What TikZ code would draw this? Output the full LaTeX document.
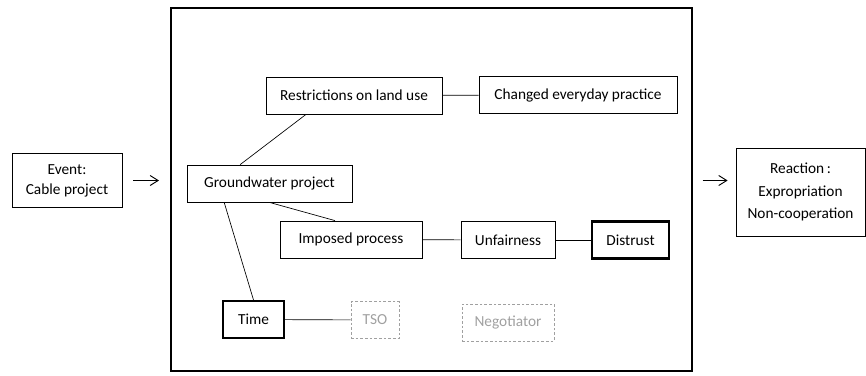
\documentclass[tikz,border=0pt]{standalone}
\usepackage{fontspec}
\setmainfont{Carlito}
\usetikzlibrary{arrows.meta}
\definecolor{faint}{HTML}{A0A0A0}
\begin{document}
\begin{tikzpicture}
		[x=0.75pt, y=-0.75pt,
		every node/.style={inner sep=1pt, minimum height=27.75pt, align=center, font=\fontsize{11.5}{15}\selectfont},
		box/.style={draw, line width=0.6pt},
		keybox/.style={draw, line width=1.6pt},
		openbox/.style={draw=faint, text=faint, dash pattern=on 2pt off 1.5pt, line width=0.6pt},
		link/.style={line width=0.5pt}]
		\useasboundingbox (0,0) rectangle (866,375);
		\node[draw, line width=2pt, minimum width=390.75pt, minimum height=272.25pt] (frame) at (431.5,189.5) {};
		\node[box, minimum width=82.5pt, minimum height=40pt] (event) at (67,180.5) {Event:\\Cable project};
		\node[box, minimum width=96.75pt, minimum height=66pt] (reaction) at (800.5,192) {Reaction\,:\\[2pt]Expropriation\\[2pt]Non-cooperation};
		
		\node[box, minimum width=132pt] (restrict) at (354,95.5) {Restrictions on land use};
		\node[box, minimum width=148.5pt] (change) at (578,95) {Changed everyday practice};
		\node[box, minimum width=123.75pt] (ground) at (269.5,183.5) {Groundwater project};
		\node[box, minimum width=106.5pt] (imposed) at (351,239.5) {Imposed process};
		\node[box, minimum width=70.5pt] (unfair) at (508,240) {Unfairness};
		\node[keybox, minimum width=57.75pt] (distrust) at (630.5,240) {Distrust};
		\node[keybox, minimum width=45.75pt] (time) at (253.5,319.5) {Time};
		\node[openbox, minimum width=36pt] (tso) at (375,320) {TSO};
		\node[openbox, minimum width=69pt] (negot) at (508,322.5) {Negotiator};
		
		\path[link] (restrict) edge (change)
			([xshift=-36pt]restrict.south) edge ([xshift=-22pt]ground.north)
			(ground.south) edge ([xshift=-12pt]imposed.north)
			([xshift=-34pt]ground.south) edge (time.north)
			(imposed) edge (unfair)
			(unfair) edge (distrust)
			(time) edge (tso);
		
		\path[-{Straight Barb[length=6pt, width=7.5pt]}, line width=0.7pt, shorten <=8pt, shorten >=8pt] (event.east) edge (frame.west |- event.east);
		\path[-{Straight Barb[length=6pt, width=7.5pt]}, line width=0.7pt, shorten <=7pt, shorten >=6pt] (frame.east |- event.east) edge (reaction.west |- event.east);
		\end{tikzpicture}
\end{document}
